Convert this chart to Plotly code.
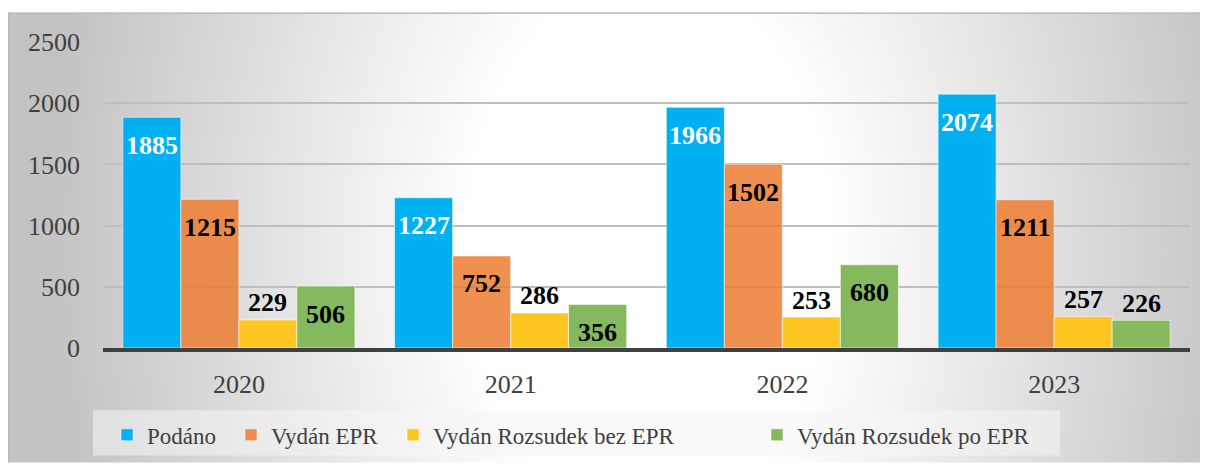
import base64
import plotly.graph_objects as go

# ---- data ----
years = ["2020", "2021", "2022", "2023"]
podano = [1885, 1227, 1966, 2074]
vydan_epr = [1215, 752, 1502, 1211]
rozsudek_bez_epr = [229, 286, 253, 257]
rozsudek_po_epr = [506, 356, 680, 226]
series_names = ["Podáno", "Vydán EPR", "Vydán Rozsudek bez EPR", "Vydán Rozsudek po EPR"]
y_ticks = [0, 500, 1000, 1500, 2000, 2500]

# ---- geometry / style ----
OFF = 8                      # page body margin
W, H = 1200, 460             # figure size
ML, MR, MT, MB = 95, 18, 34, 116
PW, PH = W - ML - MR, H - MT - MB
BARGAP = 0.146

def px_x(px):                # px = position in the screenshot
    return (px - OFF - ML) / PW

def px_y(py):
    return (H - MB - (py - OFF)) / PH

FONT = "Liberation Serif, Times New Roman, serif"

svg = f'''<svg xmlns="http://www.w3.org/2000/svg" width="{W}" height="{H}" viewBox="0 0 {W} {H}">
<defs><radialGradient id="g" gradientUnits="userSpaceOnUse" cx="642" cy="242" r="600"
gradientTransform="translate(642 242) scale(1 1.5) translate(-642 -242)">
<stop offset="0" stop-color="#ffffff"/><stop offset="0.3" stop-color="#ffffff"/>
<stop offset="1" stop-color="#c3c3c3"/></radialGradient></defs>
<rect width="{W}" height="{H}" fill="#ffffff"/>
<rect x="0.75" y="4.75" width="1210" height="470" fill="url(#g)" stroke="#b8b8b8" stroke-width="1.5"/>
</svg>'''
bg_src = "data:image/svg+xml;base64," + base64.b64encode(svg.encode()).decode()

colors = ["#00B0F0", "rgba(237,125,49,0.85)", "#FFC523", "#84BA5D"]
text_colors = ["#FFFFFF", "#000000", "#000000", "#000000"]
values = [podano, vydan_epr, rozsudek_bez_epr, rozsudek_po_epr]
legend_widths = [79, 117, 319, 290]

bar_px = PW / len(years) * (1 - BARGAP) / len(values)

fig = go.Figure()
annotations = []
for i, (name, vals) in enumerate(zip(series_names, values)):
    fig.add_trace(go.Bar(
        name=name, x=years, y=vals,
        marker=dict(color=colors[i], line=dict(color="rgba(255,255,255,0.55)", width=1)),
        legendwidth=legend_widths[i],
    ))
    for j, v in enumerate(vals):
        inside = (i in (0, 1)) or (i == 3 and v > 300)
        annotations.append(dict(
            x=j, y=v, xref="x", yref="y", text=f"<b>{v}</b>", showarrow=False,
            xshift=(i - 1.5) * bar_px, yshift=-28 if inside else 17,
            yanchor="middle", xanchor="center",
            font=dict(family=FONT, size=26, color=text_colors[i] if inside else "#000000"),
        ))

fig.update_layout(
    width=W, height=H, autosize=False,
    margin=dict(l=ML, r=MR, t=MT, b=MB, pad=0),
    paper_bgcolor="#FFFFFF", plot_bgcolor="rgba(0,0,0,0)",
    barmode="group", bargap=BARGAP, bargroupgap=0,
    font=dict(family=FONT, color="#404040"),
    xaxis=dict(
        type="category", categoryorder="array", categoryarray=years,
        range=[-0.5, len(years) - 0.5],
        showgrid=False, showline=True, linecolor="#404040", linewidth=4,
        ticks="", tickfont=dict(family=FONT, size=26, color="#404040"),
        ticklabelstandoff=10,
    ),
    yaxis=dict(
        range=[0, 2500], tickvals=y_ticks, showgrid=True, gridcolor="#BEBEBE", gridwidth=2,
        zeroline=False, showline=False, ticks="",
        tickfont=dict(family=FONT, size=26, color="#404040"),
        ticklabelstandoff=22,
    ),
    legend=dict(
        orientation="h", x=px_x(107), xanchor="left", y=px_y(440), yanchor="middle",
        bgcolor="rgba(0,0,0,0)", borderwidth=0,
        font=dict(family=FONT, size=23, color="#404040"),
        traceorder="normal",
    ),
    annotations=annotations,
    images=[dict(
        source=bg_src, xref="paper", yref="paper",
        x=-ML / PW, y=1 + MT / PH, sizex=W / PW, sizey=H / PH,
        xanchor="left", yanchor="top", sizing="stretch", layer="below",
    )],
    shapes=[dict(
        type="rect", xref="paper", yref="paper",
        x0=px_x(93), x1=px_x(1060), y0=px_y(461), y1=px_y(415),
        fillcolor="rgba(246,246,246,0.55)", line=dict(width=0), layer="below",
    )],
)

fig.write_html("out.html")
